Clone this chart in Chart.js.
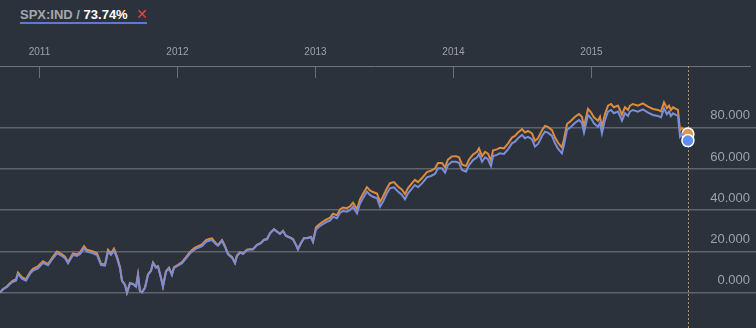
<!DOCTYPE html>
<html>
<head>
<meta charset="utf-8">
<script src="https://cdn.jsdelivr.net/npm/chart.js@4/dist/chart.umd.min.js"></script>
<style>
  html, body { margin: 0; padding: 0; width: 756px; height: 328px; overflow: hidden; background: #2b323b; font-family: "Liberation Sans", Arial, sans-serif; }
  #hdr { position: absolute; left: 20px; top: 8px; font-size: 13px; font-weight: bold; line-height: 13px; white-space: nowrap; }
  #hdr .sym { color: #a4a8ad; }
  #hdr .pct { color: #ffffff; }
  #close { position: absolute; left: 136px; top: 8px; color: #e0443f; font-size: 14px; font-weight: bold; line-height: 13px; font-family: "DejaVu Sans", sans-serif; }
  #bar { position: absolute; left: 20px; top: 22px; width: 127px; height: 2px; background: #5b7ad4; }
  #wrap { position: absolute; left: 0; top: 30px; width: 756px; height: 298px; }
</style>
</head>
<body>
<div id="hdr"><span class="sym"></span><span class="pct"></span></div>
<div id="close">✕</div>
<div id="bar"></div>
<div id="wrap"><canvas id="c"></canvas></div>
<script>
// Weekly-ish observations, dates as decimal years
const dates = [
  2010.714, 2010.736, 2010.765, 2010.786, 2010.808, 2010.830, 2010.844, 2010.873, 2010.902, 2010.931, 2010.953, 2010.989,
  2011.026, 2011.062, 2011.098, 2011.127, 2011.163, 2011.185, 2011.207, 2011.243, 2011.272, 2011.294, 2011.323, 2011.344, 2011.388, 2011.417, 2011.446, 2011.475, 2011.497, 2011.518, 2011.540, 2011.562, 2011.584, 2011.598, 2011.620, 2011.634, 2011.656, 2011.678, 2011.700, 2011.714, 2011.728, 2011.743, 2011.765, 2011.786, 2011.808, 2011.823, 2011.844, 2011.859, 2011.881, 2011.895, 2011.917, 2011.939, 2011.960, 2011.975,
  2012.004, 2012.033, 2012.062, 2012.091, 2012.120, 2012.149, 2012.178, 2012.207, 2012.229, 2012.250, 2012.279, 2012.294, 2012.323, 2012.344, 2012.366, 2012.395, 2012.417, 2012.431, 2012.453, 2012.475, 2012.504, 2012.526, 2012.547, 2012.576, 2012.605, 2012.627, 2012.649, 2012.671, 2012.700, 2012.721, 2012.743, 2012.765, 2012.786, 2012.808, 2012.837, 2012.859, 2012.873, 2012.895, 2012.917, 2012.939, 2012.968, 2012.982,
  2013.004, 2013.026, 2013.055, 2013.084, 2013.105, 2013.127, 2013.156, 2013.178, 2013.200, 2013.229, 2013.250, 2013.272, 2013.301, 2013.323, 2013.344, 2013.373, 2013.395, 2013.417, 2013.446, 2013.468, 2013.489, 2013.518, 2013.540, 2013.569, 2013.598, 2013.627, 2013.649, 2013.671, 2013.700, 2013.721, 2013.743, 2013.772, 2013.808, 2013.837, 2013.866, 2013.888, 2013.917, 2013.939, 2013.960, 2013.989,
  2014.018, 2014.040, 2014.062, 2014.091, 2014.113, 2014.142, 2014.171, 2014.185, 2014.207, 2014.229, 2014.250, 2014.272, 2014.287, 2014.315, 2014.337, 2014.366, 2014.395, 2014.424, 2014.446, 2014.468, 2014.497, 2014.518, 2014.540, 2014.569, 2014.591, 2014.613, 2014.642, 2014.663, 2014.685, 2014.714, 2014.736, 2014.757, 2014.786, 2014.801, 2014.823, 2014.852, 2014.881, 2014.910, 2014.931, 2014.946, 2014.975, 2014.997,
  2015.018, 2015.047, 2015.062, 2015.076, 2015.098, 2015.120, 2015.142, 2015.163, 2015.192, 2015.207, 2015.221, 2015.243, 2015.265, 2015.279, 2015.301, 2015.337, 2015.373, 2015.410, 2015.446, 2015.482, 2015.504, 2015.526, 2015.547, 2015.562, 2015.576, 2015.591, 2015.612, 2015.627, 2015.642, 2015.656, 2015.678, 2015.699
];

// SPX:IND cumulative change, %
const spx = [
  0, 1.6, 2.8, 4.2, 5.3, 5.8, 9.1, 6.8, 5.8, 9.1, 10.7, 11.8,
  14.5, 13.3, 16.7, 19.1, 17.8, 16.7, 14.3, 18.3, 17.8, 18.8, 21.5, 19.9, 19.1, 18.3, 13.4, 13.1, 19.9, 18.3, 20.4, 16.7, 11.8, 5.7, 3.7, 0, 4.5, 4.1, 2.9, 8.6, 0.8, 0.2, 2.4, 8.6, 10.5, 14.3, 12.1, 12.6, 7.0, 2.9, 10.2, 11.8, 8.6, 12.1,
  13.1, 14.3, 16.7, 19.1, 20.7, 21.8, 22.6, 24.7, 25.2, 25.5, 23.5, 22.8, 25.1, 22.3, 18.6, 17.0, 14.3, 17.8, 19.4, 18.8, 20.7, 21.0, 21.0, 23.1, 24.0, 25.6, 25.9, 28.8, 30.7, 29.6, 28.5, 29.9, 27.5, 26.9, 25.9, 23.1, 21.0, 24.0, 26.4, 26.4, 26.9, 24.7,
  30.7, 32.0, 33.3, 34.4, 34.9, 36.8, 36.1, 38.8, 39.6, 39.3, 40.1, 41.7, 38.5, 43.3, 45.8, 49.0, 47.4, 46.5, 45.8, 41.7, 44.1, 48.2, 50.6, 51.1, 49.0, 47.4, 45.3, 48.2, 50.6, 52.2, 51.1, 53.0, 55.9, 56.6, 57.6, 60.3, 60.3, 58.2, 61.9, 63.5,
  63.5, 63.0, 59.5, 58.7, 61.9, 64.3, 65.6, 67.3, 63.5, 65.6, 64.7, 61.4, 66.3, 66.8, 67.6, 67.3, 69.5, 72.4, 73.2, 74.9, 76.5, 74.9, 75.6, 74.4, 70.8, 72.1, 76.0, 78.1, 77.6, 76.0, 72.4, 70.0, 67.6, 71.6, 78.9, 80.5, 82.4, 83.7, 82.4, 77.6, 86.2, 84.6,
  82.1, 80.5, 82.4, 77.3, 83.7, 87.8, 88.6, 87.0, 87.8, 85.7, 83.4, 87.0, 85.7, 87.8, 88.6, 87.8, 88.9, 87.3, 86.2, 85.7, 85.0, 89.4, 86.6, 87.8, 85.7, 87.0, 86.2, 85.7, 75.6, 76.9, 75.6, 73.74
];

// Comparison series cumulative change, %
const comparison = [
  0, 1.8, 3.1, 4.6, 5.8, 6.4, 9.8, 7.5, 6.5, 9.9, 11.6, 12.8,
  15.2, 13.9, 17.5, 20.0, 18.6, 17.5, 14.9, 19.1, 18.6, 19.6, 22.5, 20.8, 20.0, 19.1, 14.0, 13.7, 20.8, 19.1, 21.3, 17.5, 12.3, 5.9, 3.9, 0, 4.7, 4.3, 3.0, 8.8, 0.9, 0.3, 2.5, 8.8, 10.7, 14.6, 12.4, 12.9, 7.2, 3.0, 10.4, 12.1, 8.8, 12.4,
  13.5, 14.8, 17.3, 19.8, 21.5, 22.6, 23.4, 25.5, 26.0, 26.3, 23.9, 23.2, 25.5, 22.7, 18.9, 17.3, 14.5, 18.0, 19.6, 19.0, 20.8, 21.1, 21.1, 23.2, 24.1, 25.7, 26.0, 28.9, 30.8, 29.7, 28.6, 30.0, 27.6, 27.0, 26.0, 23.2, 21.1, 24.1, 26.5, 26.5, 27.0, 24.8,
  31.7, 33.1, 34.5, 35.7, 36.3, 38.3, 37.6, 40.4, 41.3, 41.0, 41.9, 43.6, 40.4, 45.3, 47.9, 51.2, 49.6, 48.8, 48.1, 44.0, 46.5, 50.6, 53.1, 53.6, 51.5, 49.9, 47.8, 50.7, 53.1, 54.7, 53.6, 55.6, 58.5, 59.2, 60.2, 62.9, 62.9, 60.8, 64.5, 66.1,
  66.2, 65.7, 62.2, 61.4, 64.6, 67.0, 68.3, 70.0, 66.2, 68.3, 67.4, 64.1, 69.0, 69.5, 70.3, 70.0, 72.3, 75.2, 76.0, 77.7, 79.3, 77.7, 78.4, 77.2, 73.6, 74.9, 78.8, 80.9, 80.4, 78.8, 75.2, 72.8, 70.4, 74.4, 81.8, 83.4, 85.3, 86.6, 85.3, 80.5, 89.1, 87.5,
  85.0, 83.4, 85.3, 80.2, 86.6, 90.7, 91.5, 89.9, 90.7, 88.6, 86.3, 89.9, 88.6, 90.7, 91.5, 90.7, 91.8, 90.2, 89.1, 88.6, 87.9, 92.3, 89.5, 90.7, 88.6, 89.9, 89.1, 88.6, 78.6, 79.9, 78.7, 76.9
];

const yearTicks = [2011, 2012, 2013, 2014, 2015];
const valueTicks = [0, 20, 40, 60, 80];
const symbol = 'SPX:IND';

const X_MIN = 2010.714, X_MAX = 2016.149;
const Y_MIN = -17.12, Y_MAX = 109.92;

const lastIdx = dates.length - 1;

// Header: symbol and latest change
document.querySelector('#hdr .sym').textContent = symbol + ' / ';
document.querySelector('#hdr .pct').textContent = spx[lastIdx].toFixed(2) + '%';

const BLUE = '#7b8dd6';
const ORANGE = '#de8b3e';
const GRID = '#5f646b';
const LABEL = '#9ea2a8';
const FONT = '"Liberation Sans", Arial, sans-serif';

// Dotted marker at the latest observation
const latestLine = {
  id: 'latestLine',
  beforeDatasetsDraw(chart) {
    const { ctx, chartArea, scales } = chart;
    const px = Math.round(scales.x.getPixelForValue(dates[lastIdx])) + 0.5;
    ctx.save();
    ctx.strokeStyle = 'rgba(196,160,92,0.9)';
    ctx.lineWidth = 1;
    ctx.setLineDash([2, 2]);
    ctx.beginPath();
    ctx.moveTo(px, chartArea.top);
    ctx.lineTo(px, chartArea.bottom);
    ctx.stroke();
    ctx.restore();
  }
};

const endPoint = (ctx) => ctx.dataIndex === lastIdx ? 6 : 0;

new Chart(document.getElementById('c'), {
  type: 'line',
  data: {
    datasets: [
      {
        label: symbol,
        data: dates.map((d, i) => ({ x: d, y: spx[i] })),
        borderColor: BLUE,
        borderWidth: 2,
        tension: 0,
        pointRadius: endPoint,
        pointBackgroundColor: '#5f8ff0',
        pointBorderColor: '#ffffff',
        pointBorderWidth: 1.5,
        order: 0
      },
      {
        label: 'Comparison',
        data: dates.map((d, i) => ({ x: d, y: comparison[i] })),
        borderColor: ORANGE,
        borderWidth: 2,
        tension: 0,
        pointRadius: endPoint,
        pointBackgroundColor: '#e3944a',
        pointBorderColor: '#ffffff',
        pointBorderWidth: 1.5,
        order: 1
      }
    ]
  },
  options: {
    responsive: true,
    maintainAspectRatio: false,
    animation: false,
    devicePixelRatio: 1,
    events: [],
    layout: { padding: 0, autoPadding: false },
    plugins: { legend: { display: false }, tooltip: { enabled: false } },
    scales: {
      x: {
        type: 'linear',
        position: 'top',
        min: X_MIN,
        max: X_MAX,
        afterBuildTicks: (s) => { s.ticks = yearTicks.map(v => ({ value: v })); },
        afterFit: (s) => { s.height = 36; s.paddingLeft = 0; s.paddingRight = 0; },
        ticks: {
          callback: (v) => String(v),
          color: LABEL,
          font: { size: 10, family: FONT },
          padding: 20,
          maxRotation: 0,
          autoSkip: false
        },
        grid: { drawOnChartArea: false, drawTicks: true, tickLength: -12, color: '#6a6f76', tickColor: '#6a6f76', tickWidth: 1 },
        border: { display: true, color: '#6f747b', width: 1 }
      },
      y: {
        position: 'right',
        min: Y_MIN,
        max: Y_MAX,
        afterBuildTicks: (s) => { s.ticks = valueTicks.map(v => ({ value: v })); },
        afterFit: (s) => { s.width = 6; s.paddingTop = 0; s.paddingBottom = 0; },
        ticks: {
          mirror: true,
          padding: 0,
          labelOffset: -12,
          callback: (v) => v.toFixed(3),
          color: LABEL,
          font: { size: 13, family: FONT }
        },
        grid: { color: GRID, lineWidth: 1.5, drawTicks: true, tickLength: 6, tickColor: GRID, tickWidth: 1.5 },
        border: { display: false }
      }
    }
  },
  plugins: [latestLine]
});
</script>
</body>
</html>
